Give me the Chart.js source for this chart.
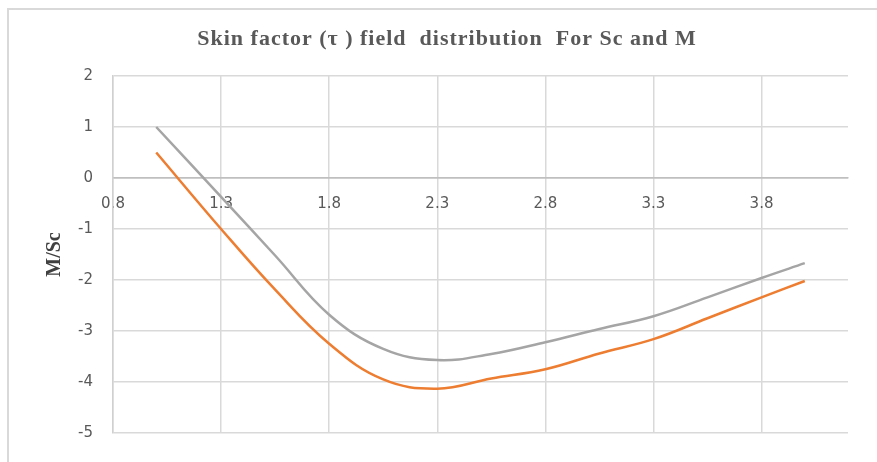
<!DOCTYPE html>
<html>
<head>
<meta charset="utf-8">
<script src="https://cdn.jsdelivr.net/npm/chart.js@4.4.0/dist/chart.umd.min.js"></script>
<style>
html,body{margin:0;padding:0;background:#fff;}
#wrap{width:877px;height:462px;position:relative;}
</style>
</head>
<body>
<div id="wrap"><canvas id="c" width="877" height="462"></canvas></div>
<script>
const chartTitle = "Skin factor (\u03C4 ) field  distribution  For Sc and M";
const yAxisTitle = "M/Sc";
const xValues = [1.0, 1.3, 1.55, 1.8, 2.05, 2.3, 2.55, 2.8, 3.05, 3.3, 3.55, 3.8, 4.0];
const graySeries = [1.0, -0.37, -1.52, -2.68, -3.35, -3.57, -3.45, -3.22, -2.96, -2.71, -2.34, -1.96, -1.67];
const orangeSeries = [0.5, -1.0, -2.19, -3.25, -3.95, -4.13, -3.93, -3.75, -3.44, -3.16, -2.75, -2.34, -2.02];
const xTicks = [0.8, 1.3, 1.8, 2.3, 2.8, 3.3, 3.8];
const yTicks = [-5, -4, -3, -2, -1, 0, 1, 2];

const tickFont = {family: '"DejaVu Sans", "Liberation Sans", sans-serif', size: 15};
const serifFam = '"Liberation Serif", "DejaVu Serif", serif';

const decorPlugin = {
  id: 'decor',
  beforeDraw(chart) {
    const ctx = chart.ctx;
    ctx.save();
    ctx.fillStyle = '#ffffff';
    ctx.fillRect(0, 0, chart.width, chart.height);
    ctx.strokeStyle = '#d9d9d9';
    ctx.lineWidth = 2;
    ctx.strokeRect(8, 9, 900, 500);
    ctx.restore();
  },
  afterDraw(chart) {
    const ctx = chart.ctx;
    ctx.save();
    try { ctx.letterSpacing = '1px'; } catch (e) {}
    ctx.fillStyle = '#595959';
    ctx.font = 'bold 22px ' + serifFam;
    ctx.textAlign = 'center';
    ctx.textBaseline = 'alphabetic';
    ctx.fillText(chartTitle, 447, 45);
    ctx.restore();
  }
};

const toPts = (ys) => xValues.map((x, i) => ({x: x, y: ys[i]}));

new Chart(document.getElementById('c'), {
  type: 'line',
  data: {
    datasets: [
      {label: 'gray', data: toPts(graySeries), borderColor: '#a5a5a5', borderWidth: 2.5, pointRadius: 0, fill: false, tension: 0.4},
      {label: 'orange', data: toPts(orangeSeries), borderColor: '#ed7d31', borderWidth: 2.5, pointRadius: 0, fill: false, tension: 0.4}
    ]
  },
  options: {
    responsive: false,
    animation: false,
    layout: {padding: {left: 0, right: 29, top: 76, bottom: 19}},
    plugins: {
      legend: {display: false},
      tooltip: {enabled: false},
      title: {display: false}
    },
    scales: {
      x: {
        type: 'linear',
        position: {y: 0},
        min: 0.8,
        max: 4.2,
        afterBuildTicks: (s) => { s.ticks = xTicks.map(v => ({value: v})); },
        ticks: {color: '#595959', font: tickFont, padding: 17, maxRotation: 0, autoSkip: false, callback: (v) => Number(v).toFixed(1)},
        grid: {color: '#d9d9d9', lineWidth: 1.5, drawTicks: false},
        border: {display: true, color: '#bfbfbf', width: 1.5}
      },
      y: {
        type: 'linear',
        min: -5,
        max: 2,
        afterBuildTicks: (s) => { s.ticks = yTicks.map(v => ({value: v})); },
        afterFit: (s) => { s.width = 113; },
        ticks: {color: '#595959', font: tickFont, padding: 20},
        grid: {color: (c) => (c.tick && c.tick.value === 0) ? '#bfbfbf' : '#d9d9d9', lineWidth: 1.5, drawTicks: false},
        border: {display: true, color: '#d0d0d0', width: 1.5},
        title: {display: true, text: yAxisTitle, color: '#404040', font: {family: serifFam, weight: 'bold', size: 20, lineHeight: 1.2}, padding: {top: 43, bottom: 0}}
      }
    }
  },
  plugins: [decorPlugin]
});
</script>
</body>
</html>
